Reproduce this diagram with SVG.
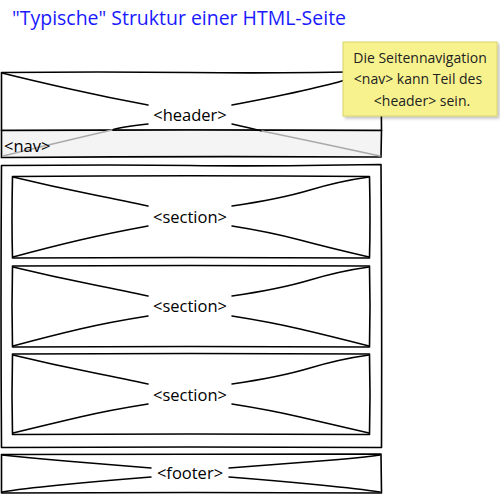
<svg xmlns="http://www.w3.org/2000/svg" width="500" height="494" viewBox="0 0 500 494">
<defs>
<style>
.box{fill:#fff;stroke:#000;stroke-width:1.6;stroke-linejoin:round}
.x{fill:none;stroke:#000;stroke-width:1.5;stroke-linecap:round}
.xg{fill:none;stroke:#aaa;stroke-width:1.4;stroke-linecap:round}
.lbl{font-family:"Open Sans","Noto Sans",sans-serif;font-size:16.5px;fill:#000;text-anchor:middle}
.note{font-family:"Open Sans","Noto Sans",sans-serif;font-size:14px;fill:#222;text-anchor:middle}
</style>
<filter id="sh" x="-10%" y="-10%" width="130%" height="130%">
<feDropShadow dx="2" dy="2" stdDeviation="1.5" flood-color="#000" flood-opacity="0.25"/>
</filter>
</defs>
<rect width="500" height="494" fill="#fff"/>
<text x="12" y="25" font-family="Open Sans, Noto Sans, sans-serif" font-size="20" fill="#1a1aff" textLength="334" lengthAdjust="spacingAndGlyphs">"Typische" Struktur einer HTML-Seite</text>

<g id="header">
<path class="box" d="M1.5,72.5 Q100,71.5 190,72.5 T381,71.5 L381.5,130.5 Q190,129.5 1.5,130.5 Z"/>
<path d="M1.5,130.5 Q190,129.5 381.5,130.5 L381,157 Q190,156 1.5,157.5 Z" fill="#f4f4f4" stroke="#000" stroke-width="1.6"/>
<path class="x" d="M2,73 Q30,80 70,89 T148,105"/>
<path class="x" d="M232,105 Q280,96 310,89 T345,80"/>
<path class="x" d="M148,124 Q120,127 112,130"/>
<path class="xg" d="M112,130 Q60,142 3,156"/>
<path class="x" d="M232,124 Q250,128 262,131"/>
<path class="xg" d="M262,131 Q320,143 380,156"/>
<text class="lbl" x="190" y="121">&lt;header&gt;</text>
</g>

<g id="nav">
<text x="4" y="152" font-family="Open Sans, Noto Sans, sans-serif" font-size="16.5" fill="#000">&lt;nav&gt;</text>
</g>

<g id="main">
<path class="box" d="M1.5,165.5 Q120,164.5 190,165.5 T381,164.5 Q382,300 381.5,447.5 Q190,446.5 1.5,447.5 Q0.5,300 1.5,165.5 Z"/>
</g>

<g id="section1">
<path class="box" d="M12.5,176.5 Q190,175 369.5,176.5 Q370.5,220 369.5,258 Q190,257 12.5,258 Q11.5,220 12.5,176.5 Z"/>
<path class="x" d="M13,177 Q50,186 90,194 T148,206"/>
<path class="x" d="M232,206 Q280,199 310,190 T369,177"/>
<path class="x" d="M148,226 Q110,233 80,240 T13,257"/>
<path class="x" d="M232,226 Q270,232 300,240 T369,257"/>
<text class="lbl" x="190" y="223">&lt;section&gt;</text>
</g>

<g id="section2">
<path class="box" d="M12.5,266 Q190,265 369.5,266 Q370.5,306 369.5,347 Q190,346 12.5,347 Q11.5,306 12.5,266 Z"/>
<path class="x" d="M13,267 Q50,276 90,284 T148,296"/>
<path class="x" d="M232,296 Q280,289 310,280 T369,267"/>
<path class="x" d="M148,316 Q110,322 80,329 T13,346"/>
<path class="x" d="M232,316 Q270,322 300,329 T369,346"/>
<text class="lbl" x="190" y="312">&lt;section&gt;</text>
</g>

<g id="section3">
<path class="box" d="M12.5,354 Q190,353 369.5,354 Q370.5,395 369.5,434.5 Q190,433.5 12.5,434.5 Q11.5,395 12.5,354 Z"/>
<path class="x" d="M13,355 Q50,364 90,372 T148,384"/>
<path class="x" d="M232,384 Q280,377 310,368 T369,355"/>
<path class="x" d="M148,404 Q110,410 80,417 T13,433"/>
<path class="x" d="M232,404 Q270,410 300,417 T369,433"/>
<text class="lbl" x="190" y="401">&lt;section&gt;</text>
</g>

<g id="footer">
<path class="box" d="M1.5,454.5 Q190,453.5 381,454 L381.5,493 Q190,492 1.5,493 Z"/>
<path class="x" d="M2,455 Q40,459 90,463 T151,468"/>
<path class="x" d="M229,468 Q280,464 320,461 T380,455"/>
<path class="x" d="M151,477 Q100,481 60,485 T2,492"/>
<path class="x" d="M229,477 Q280,481 320,485 T380,492"/>
<text class="lbl" x="190" y="479">&lt;footer&gt;</text>
</g>

<g id="note">
<rect x="343" y="42" width="154" height="74" fill="#f7f28e" stroke="#d8d46a" stroke-width="1" filter="url(#sh)"/>
<text class="note" x="420" y="63">Die Seitennavigation</text>
<text class="note" x="418" y="84">&lt;nav&gt; kann Teil des</text>
<text class="note" x="422" y="106">&lt;header&gt; sein.</text>
</g>
</svg>
